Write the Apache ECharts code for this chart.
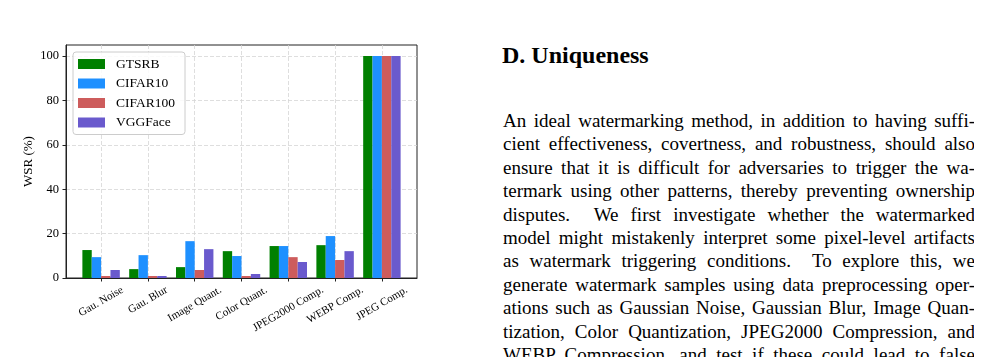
<!DOCTYPE html>
<html><head><meta charset="utf-8">
<script src="https://cdn.jsdelivr.net/npm/echarts@6/dist/echarts.min.js"></script>
<style>
html,body{margin:0;padding:0;background:#fff;width:981px;height:357px;overflow:hidden;}
#chart{position:absolute;left:0;top:0;width:490px;height:357px;}
#text{position:absolute;left:502px;top:0;width:472px;height:357px;font-family:"Liberation Serif";color:#000;overflow:hidden;}
.h{position:absolute;left:0;top:43px;font-weight:bold;font-size:24px;line-height:24px;white-space:nowrap;}
.body{position:absolute;left:1px;top:109px;width:472px;font-size:19px;line-height:23.4px;}
.body div{text-align:justify;text-align-last:justify;}
</style>
</head><body>
<div id="chart"></div>
<div id="text">
  <div class="h">D. Uniqueness</div>
  <div class="body">
    <div>An ideal watermarking method, in addition to having suffi-</div>
    <div>cient effectiveness, covertness, and robustness, should also</div>
    <div>ensure that it is difficult for adversaries to trigger the wa-</div>
    <div>termark using other patterns, thereby preventing ownership</div>
    <div>disputes.&nbsp; We first investigate whether the watermarked</div>
    <div>model might mistakenly interpret some pixel-level artifacts</div>
    <div>as watermark triggering conditions.&nbsp; To explore this, we</div>
    <div>generate watermark samples using data preprocessing oper-</div>
    <div>ations such as Gaussian Noise, Gaussian Blur, Image Quan-</div>
    <div>tization, Color Quantization, JPEG2000 Compression, and</div>
    <div>WEBP Compression, and test if these could lead to false</div>
  </div>
</div>
<script>
const categories = ['Gau. Noise','Gau. Blur','Image Quant.','Color Quant.','JPEG2000 Comp.','WEBP Comp.','JPEG Comp.'];
const seriesNames = ['GTSRB','CIFAR10','CIFAR100','VGGFace'];
const gtsrb    = [12.6, 4.0, 4.9, 12.1, 14.4, 14.8, 100];
const cifar10  = [9.4, 10.3, 16.6, 9.9, 14.4, 18.9, 100];
const cifar100 = [0.9, 0.9, 3.6, 0.9, 9.4, 8.1, 100];
const vggface  = [3.6, 0.9, 13.0, 1.8, 7.2, 12.1, 100];
const yTicks = [0, 20, 40, 60, 80, 100];
const yName = 'WSR (%)';

const colors = ['#008000', '#1E90FF', '#CD5C5C', '#6A5ACD'];
const values = [gtsrb, cifar10, cifar100, vggface];
const FONT = 'Liberation Serif';
const catIdx = categories.map((c, i) => i);

const chart = echarts.init(document.getElementById('chart'), null, {renderer: 'canvas'});
const gridStyle = {show: true, lineStyle: {color: '#d6d6d6', width: 0.8, type: [4, 2]}};
const option = {
  animation: false,
  grid: {left: 66, top: 45, width: 351, height: 233, show: true, borderColor: '#222', borderWidth: 1, backgroundColor: 'transparent'},
  legend: {
    orient: 'vertical', left: 73, top: 52,
    data: seriesNames,
    icon: 'rect', itemWidth: 27, itemHeight: 10, itemGap: 5.5,
    padding: [5, 10, 5, 5],
    borderColor: '#cccccc', borderWidth: 1, borderRadius: 3,
    backgroundColor: 'rgba(255,255,255,0.85)',
    textStyle: {fontFamily: FONT, fontSize: 13.5, color: '#000', padding: [0, 0, 0, 6]}
  },
  xAxis: {
    type: 'value', min: -0.75, max: 6.75, interval: 1,
    axisLine: {show: true, onZero: false, lineStyle: {color: '#222', width: 1}},
    axisTick: {show: true, length: 3.5, customValues: catIdx, lineStyle: {color: '#222', width: 1}},
    axisLabel: {show: false},
    splitLine: gridStyle
  },
  yAxis: {
    type: 'value', min: 0, max: 105, interval: 20,
    name: yName, nameLocation: 'middle', nameGap: 31, nameMoveOverlap: false,
    nameTextStyle: {fontFamily: FONT, fontSize: 13, color: '#000'},
    axisLine: {show: true, onZero: false, lineStyle: {color: '#222', width: 1}},
    axisTick: {show: true, length: 3.5, customValues: yTicks, lineStyle: {color: '#222', width: 1}},
    axisLabel: {show: true, customValues: yTicks, margin: 7, fontFamily: FONT, fontSize: 12.5, color: '#000',
      formatter: v => yTicks.indexOf(v) >= 0 ? String(v) : ''},
    splitLine: gridStyle
  },
  series: seriesNames.map((name, k) => ({
    name: name, type: 'bar',
    data: values[k].map((v, i) => [catIdx[i], v]),
    barWidth: '20%', barGap: '0%',
    itemStyle: {color: colors[k]}
  }))
};
chart.setOption(option);

// x category labels, rotated 30deg and centred under each tick (like matplotlib)
const cv = document.createElement('canvas').getContext('2d');
const xFont = 11;
cv.font = xFont + 'px "' + FONT + '"';
const y0 = chart.convertToPixel({yAxisIndex: 0}, 0);
const ang = Math.PI / 6;
const h = xFont * 1.1;
const labels = categories.map((c, i) => {
  const px = chart.convertToPixel({xAxisIndex: 0}, catIdx[i]);
  const L = cv.measureText(c).width;
  const bboxH = L * Math.sin(ang) + h * Math.cos(ang);
  return {
    type: 'text', x: px, y: y0 + 6 + bboxH / 2, rotation: ang,
    style: {text: c, fontFamily: FONT, fontSize: xFont, fill: '#000', align: 'center', verticalAlign: 'middle'}
  };
});
chart.setOption({graphic: labels});
</script>
</body></html>
